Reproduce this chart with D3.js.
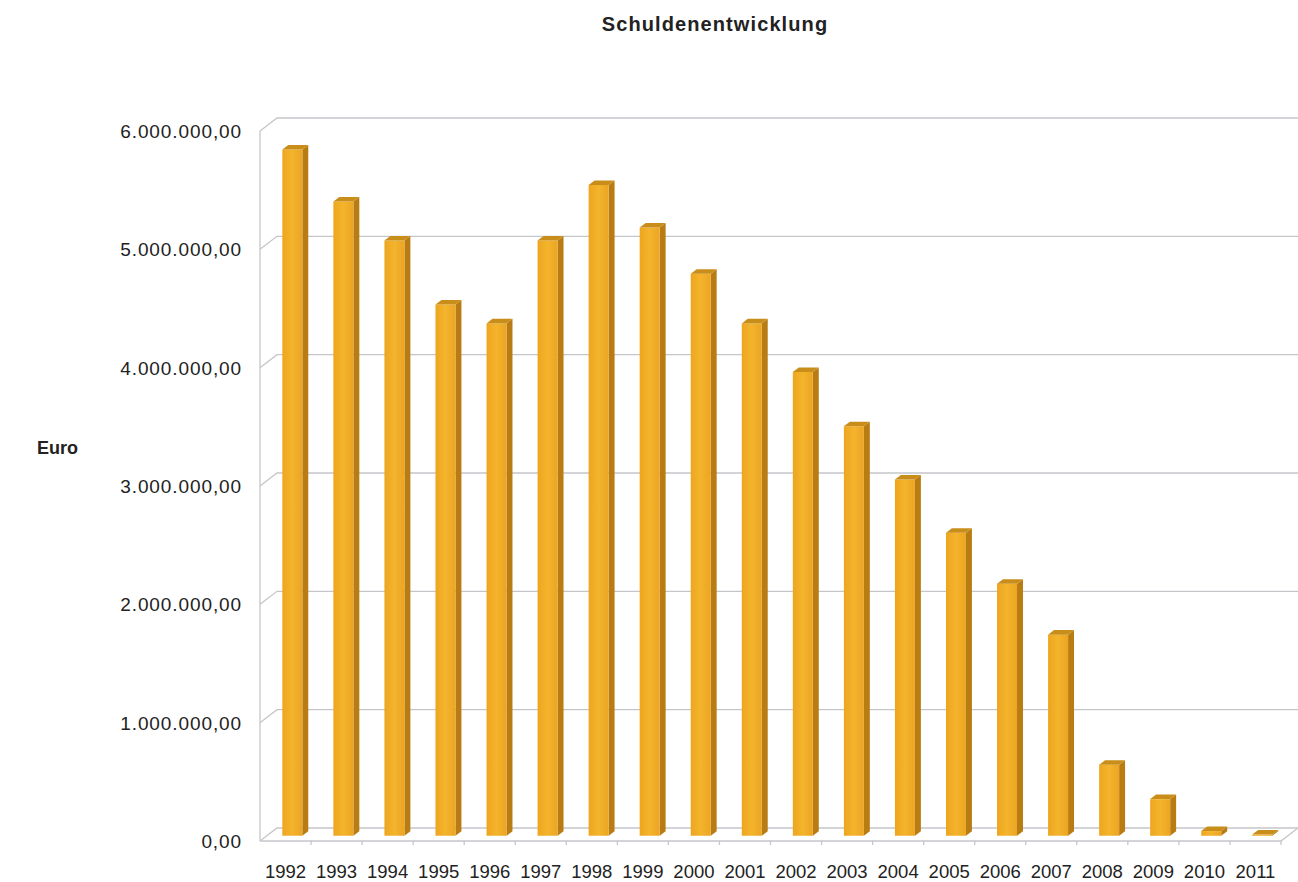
<!DOCTYPE html>
<html>
<head>
<meta charset="utf-8">
<script src="https://cdn.jsdelivr.net/npm/d3@7/dist/d3.min.js"></script>
<style>
  html, body { margin: 0; padding: 0; background: #fff; }
  svg { display: block; }
  text { font-family: Arial, "Liberation Sans", Helvetica, sans-serif; fill: #222; }
</style>
</head>
<body>
<svg id="chart" width="1298" height="882"></svg>
<script>
// ---- data ----
const years = ["1992","1993","1994","1995","1996","1997","1998","1999","2000","2001",
               "2002","2003","2004","2005","2006","2007","2008","2009","2010","2011"];
const debt = [5800000, 5360000, 5030000, 4490000, 4330000, 5030000, 5500000, 5140000, 4750000, 4330000,
              3920000, 3460000, 3010000, 2560000, 2130000, 1700000, 600000, 310000, 40000, 10000];
const yTicks = [0, 1000000, 2000000, 3000000, 4000000, 5000000, 6000000];
const chartTitle = "Schuldenentwicklung";
const yTitle = "Euro";

(function () {
// ---- layout ----
const svg = d3.select("#chart");
const pLeft = 260, pRight = 1281, pTop = 131, pBottom = 841;
const DX = 17, DY = -13;            // depth vector (front -> back)
const f0 = 0.40, f1 = 0.75;          // bar depth fraction (front/back)

const x = d3.scaleBand().domain(years).range([pLeft, pRight]).paddingInner(0).paddingOuter(0);
const y = d3.scaleLinear().domain([0, 6000000]).range([pBottom, pTop]);
const locale = d3.formatLocale({decimal: ",", thousands: ".", grouping: [3], currency: ["", " €"]});
const fmt = locale.format(",.2f");

const P = (px, py, f) => [px + f * DX, py + f * DY];
const poly = pts => "M" + pts.map(p => p.join(",")).join("L") + "Z";

// gridlines (left wall diagonal + back wall horizontal)
const grid = svg.append("g").attr("stroke", "#c4c6ca").attr("stroke-width", 1.3).attr("fill", "none");
yTicks.forEach(t => {
  const a = P(pLeft, y(t), 0), b = P(pLeft, y(t), 1), c = P(pRight, y(t), 1);
  grid.append("path").attr("d", poly([a, b, c]).replace("Z", ""));
});
// left wall front edge
grid.append("line").attr("x1", pLeft).attr("x2", pLeft).attr("y1", y(6000000)).attr("y2", y(0));
// floor front edge and right edge
grid.append("path").attr("d", poly([P(pLeft, y(0), 0), P(pRight, y(0), 0), P(pRight, y(0), 1)]).replace("Z", ""));
// small ticks under floor front edge
years.forEach((d, i) => {
  if (i === 0) return;
  grid.append("line").attr("x1", x(d)).attr("x2", x(d)).attr("y1", y(0)).attr("y2", y(0) + 4);
});
grid.append("line").attr("x1", pRight).attr("x2", pRight).attr("y1", y(0)).attr("y2", y(0) + 4);

// gradient for the bar front
const defs = svg.append("defs");
const gr = defs.append("linearGradient").attr("id", "front").attr("x1", "0").attr("x2", "1").attr("y1", "0").attr("y2", "0");
gr.append("stop").attr("offset", "0").attr("stop-color", "#eea520");
gr.append("stop").attr("offset", "0.5").attr("stop-color", "#f4b42c");
gr.append("stop").attr("offset", "1").attr("stop-color", "#eba523");

// bars
const bw = 20;
const bars = svg.append("g");
years.forEach((d, i) => {
  const v = debt[i];
  const xl = x(d) + (x.bandwidth() - bw) / 2, xr = xl + bw;
  const y0 = y(0), y1 = y(v);
  const fl0 = P(xl, y0, f0), fr0 = P(xr, y0, f0), fl1 = P(xl, y1, f0), fr1 = P(xr, y1, f0);
  const br0 = P(xr, y0, f1), br1 = P(xr, y1, f1), bl1 = P(xl, y1, f1);
  bars.append("path").attr("d", poly([fr0, br0, br1, fr1])).attr("fill", "#b87c12");
  bars.append("path").attr("d", poly([fl0, fr0, fr1, fl1])).attr("fill", "url(#front)");
  bars.append("path").attr("d", poly([fl1, fr1, br1, bl1])).attr("fill", "#c98d1a");
});

// y tick labels
svg.append("g").selectAll("text").data(yTicks).join("text")
  .attr("x", 242).attr("y", t => y(t) + 7)
  .attr("text-anchor", "end")
  .style("font-size", "19px").style("letter-spacing", "0.9px")
  .text(t => fmt(t));

// x labels
svg.append("g").selectAll("text").data(years).join("text")
  .attr("x", d => x(d) + x.bandwidth() / 2).attr("y", 878)
  .attr("text-anchor", "middle")
  .style("font-size", "18.5px")
  .text(d => d);

// titles
svg.append("text").attr("x", 715).attr("y", 31).attr("text-anchor", "middle")
  .style("font-size", "20px").style("font-weight", "bold").style("letter-spacing", "1.1px")
  .text(chartTitle);
svg.append("text").attr("x", 37).attr("y", 454)
  .style("font-size", "18px").style("font-weight", "bold")
  .text(yTitle);
})();
</script>
</body>
</html>
